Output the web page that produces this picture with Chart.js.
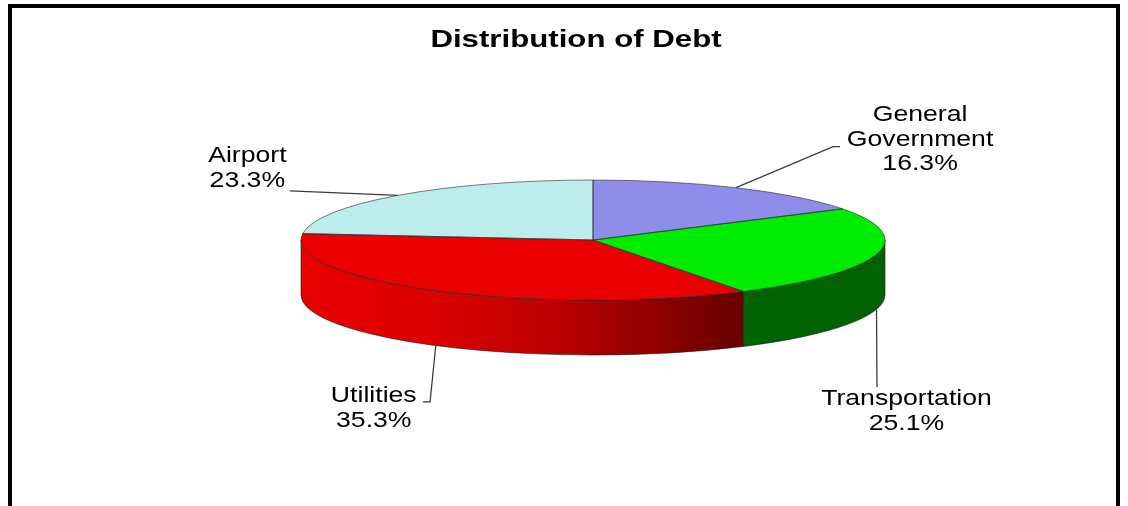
<!DOCTYPE html>
<html>
<head>
<meta charset="utf-8">
<title>Distribution of Debt</title>
<script src="https://cdn.jsdelivr.net/npm/chart.js@4.4.1/dist/chart.umd.min.js"></script>
<style>
  html, body { margin: 0; padding: 0; background: #fff; }
  #wrap { position: relative; width: 1128px; height: 506px; }
</style>
</head>
<body>
<div id="wrap"><canvas id="pie-debt"></canvas></div>
<script>
// debt shares, clockwise from 12 o'clock
const categories = ['General Government', 'Transportation', 'Utilities', 'Airport'];
const shares = [16.3, 25.1, 35.3, 23.3];
// how each name wraps in its label
const labelLines = [['General', 'Government'], ['Transportation'], ['Utilities'], ['Airport']];

// top face / side wall colours
const topColors = ['#8e8eea', '#00ec00', '#ea0000', '#bdecec'];
const sideColors = ['#4c4ca0', '#006200', null, '#70a8a8']; // null -> red gradient

// tilted pie: centre, vertical radius of the top ellipse, wall height
const PIE = { cx: 593, cy: 240, ry: 60, depth: 55 };

// leader line bends and text block centre, relative to each slice anchor
const leaderBends = [[[97, -41], [104, -41]], [[0.5, 77.6]], [[-5.7, 56.4], [-12.7, 56.4]], [[-108, -4.4]]];
const textOffsets = [[184, -48], [30, 102], [-62, 63], [-150.5, -27]];

const FONT = '"Liberation Sans", Arial, sans-serif';

// point on the top ellipse for a given arc angle
function rimPoint(arc, a, dy) {
  return {
    x: PIE.cx + arc.outerRadius * Math.cos(a),
    y: PIE.cy + PIE.ry * Math.sin(a) + (dy || 0)
  };
}

// stretched text (the chart fonts are drawn wide)
function wideText(ctx, text, x, y, sx) {
  ctx.save();
  ctx.translate(x, y);
  ctx.scale(sx, 1);
  ctx.fillText(text, 0, 0);
  ctx.restore();
}

// white page, black frame and title
const framePlugin = {
  id: 'frame',
  beforeDraw(chart) {
    const c = chart.ctx;
    c.save();
    c.fillStyle = '#fff';
    c.fillRect(0, 0, chart.width, chart.height);
    c.strokeStyle = '#000';
    c.lineWidth = 4;
    c.strokeRect(10, 6, 1108, 540);
    c.fillStyle = '#000';
    c.font = 'bold 24px ' + FONT;
    c.textAlign = 'center';
    c.textBaseline = 'middle';
    wideText(c, 'Distribution of Debt', 576, 40, 1.3);
    c.restore();
  }
};

// side walls underneath, then squash the library's pie into an ellipse
const pie3dPlugin = {
  id: 'pie3d',
  beforeDatasetsDraw(chart) {
    const c = chart.ctx;
    const arcs = chart.getDatasetMeta(0).data;
    const R = arcs[0].outerRadius;

    arcs.forEach((arc, i) => {
      const s = Math.max(arc.startAngle, 0);
      const e = Math.min(arc.endAngle, Math.PI);
      if (s >= e) return; // back side, hidden
      const p1 = rimPoint(arc, s);
      const p2 = rimPoint(arc, e);
      c.save();
      c.beginPath();
      c.moveTo(p1.x, p1.y);
      c.ellipse(PIE.cx, PIE.cy, R, PIE.ry, 0, s, e);
      c.lineTo(p2.x, p2.y + PIE.depth);
      c.ellipse(PIE.cx, PIE.cy + PIE.depth, R, PIE.ry, 0, e, s, true);
      c.closePath();
      let fill = sideColors[i];
      if (!fill) {
        const g = c.createLinearGradient(Math.min(p1.x, p2.x), 0, Math.max(p1.x, p2.x), 0);
        g.addColorStop(0, '#e80000');
        g.addColorStop(0.3, '#dc0000');
        g.addColorStop(0.6, '#b80000');
        g.addColorStop(1, '#680000');
        fill = g;
      }
      c.fillStyle = fill;
      c.fill();
      c.strokeStyle = 'rgba(30,30,30,0.75)';
      c.lineWidth = 0.8;
      c.stroke();
      c.restore();
    });

    c.save();
    c.translate(PIE.cx, PIE.cy);
    c.scale(1, PIE.ry / R);
    c.translate(-arcs[0].x, -arcs[0].y);
  },
  afterDatasetsDraw(chart) {
    const c = chart.ctx;
    c.restore();
    const arcs = chart.getDatasetMeta(0).data;
    const R = arcs[0].outerRadius;

    // slice outlines on the top face
    arcs.forEach(arc => {
      const p = rimPoint(arc, arc.startAngle);
      c.save();
      c.beginPath();
      c.moveTo(PIE.cx, PIE.cy);
      c.lineTo(p.x, p.y);
      c.ellipse(PIE.cx, PIE.cy, R, PIE.ry, 0, arc.startAngle, arc.endAngle);
      c.closePath();
      c.strokeStyle = 'rgba(40,40,40,0.75)';
      c.lineWidth = 0.8;
      c.stroke();
      c.restore();
    });

    // leader lines and labels
    arcs.forEach((arc, i) => {
      const mid = (arc.startAngle + arc.endAngle) / 2;
      const front = Math.sin(mid) > 0;
      const a = rimPoint(arc, mid, front ? PIE.depth : 0);
      c.save();
      c.strokeStyle = '#3c3c3c';
      c.lineWidth = 1.3;
      c.beginPath();
      c.moveTo(a.x, a.y);
      leaderBends[i].forEach(b => c.lineTo(a.x + b[0], a.y + b[1]));
      c.stroke();

      const lines = labelLines[i].concat(shares[i].toFixed(1) + '%');
      const tx = a.x + textOffsets[i][0];
      const ty = a.y + textOffsets[i][1];
      c.fillStyle = '#000';
      c.font = '22px ' + FONT;
      c.textAlign = 'center';
      c.textBaseline = 'middle';
      lines.forEach((t, k) => {
        wideText(c, t, tx, ty + (k - (lines.length - 1) / 2) * 24.5, 1.21);
      });
      c.restore();
    });
  }
};

const debtCtx = document.getElementById('pie-debt').getContext('2d');
const pieDebt = new Chart(debtCtx, {
  type: 'pie',
  data: {
    labels: categories,
    datasets: [{
      data: shares,
      backgroundColor: topColors,
      borderWidth: 0,
      radius: 292,
      clip: false
    }]
  },
  options: {
    responsive: true,
    maintainAspectRatio: false,
    animation: false,
    events: [],
    plugins: {
      legend: { display: false },
      tooltip: { enabled: false },
      title: { display: false }
    }
  },
  plugins: [framePlugin, pie3dPlugin]
});
</script>
</body>
</html>
